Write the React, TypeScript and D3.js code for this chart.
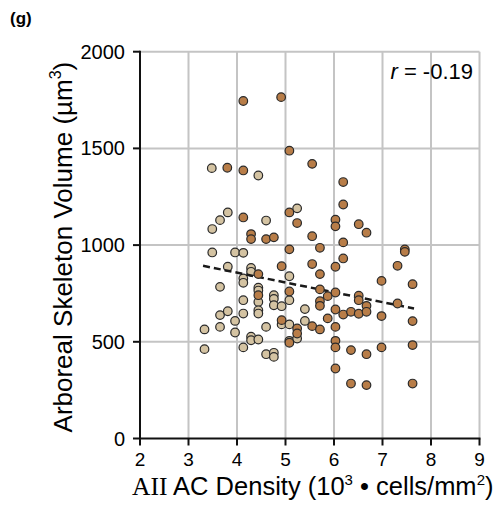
import React from 'react';
import * as d3 from 'd3';

// values: x = AII AC density, y = arboreal skeleton volume
const lightX = [3.33, 3.33, 3.48, 3.49, 3.49, 3.65, 3.65, 3.65, 3.65, 3.81, 3.81, 3.81, 3.96, 3.96, 3.96, 4.13, 4.13, 4.13, 4.13, 4.13, 4.13, 4.29, 4.29, 4.29, 4.29, 4.44, 4.44, 4.44, 4.44, 4.44, 4.44, 4.44, 4.6, 4.6, 4.6, 4.76, 4.76, 4.76, 4.76, 4.76, 4.92, 4.92, 5.08, 5.08, 5.08, 5.08, 5.24, 5.24, 5.4, 5.4];
const lightY = [564, 462, 1398, 1083, 962, 1129, 784, 638, 577, 1169, 888, 658, 962, 608, 548, 960, 828, 805, 715, 646, 471, 882, 862, 526, 508, 1360, 780, 765, 706, 663, 646, 512, 1127, 577, 436, 741, 722, 689, 443, 422, 684, 590, 839, 715, 590, 505, 1190, 517, 669, 608];

const darkX = [3.8, 4.13, 4.13, 4.13, 4.29, 4.29, 4.44, 4.44, 4.6, 4.76, 4.91, 4.92, 4.92, 5.08, 5.08, 5.08, 5.08, 5.08, 5.24, 5.24, 5.24, 5.55, 5.55, 5.55, 5.55, 5.71, 5.71, 5.71, 5.71, 5.71, 5.71, 5.87, 5.87, 6.03, 6.03, 6.03, 6.03, 6.03, 6.03, 6.03, 6.03, 6.03, 6.19, 6.19, 6.19, 6.19, 6.19, 6.35, 6.35, 6.35, 6.51, 6.51, 6.51, 6.51, 6.67, 6.67, 6.67, 6.67, 6.67, 6.98, 6.98, 6.98, 7.31, 7.31, 7.46, 7.46, 7.62, 7.62, 7.62, 7.62];
const darkY = [1400, 1745, 1386, 1143, 1057, 1031, 850, 741, 1031, 1040, 1765, 891, 612, 1488, 1169, 978, 760, 495, 1114, 569, 543, 1420, 1046, 902, 581, 986, 850, 771, 710, 686, 564, 736, 621, 1131, 1097, 888, 755, 667, 577, 505, 471, 362, 1326, 1210, 1014, 931, 641, 655, 457, 284, 1108, 738, 715, 645, 1064, 686, 655, 436, 276, 815, 633, 471, 893, 698, 978, 965, 798, 607, 483, 284];

const trendX = [3.3, 7.65];
const trendY = [893, 672];

const xTicks = [2, 3, 4, 5, 6, 7, 8, 9];
const yTicks = [0, 500, 1000, 1500, 2000];

export default function App() {
    const width = 501;
    const height = 510;
    const font = '"Liberation Sans", Arial, sans-serif';

    const xScale = d3.scaleLinear().domain([2, 9]).range([140, 479.5]);
    const yScale = d3.scaleLinear().domain([0, 2000]).range([438.5, 51.7]);

    const light = lightX.map((x, i) => ({ x, y: lightY[i] }));
    const dark = darkX.map((x, i) => ({ x, y: darkY[i] }));
    const trend = trendX.map((x, i) => ({ x, y: trendY[i] }));

    const line = d3.line<{ x: number; y: number }>()
        .x(d => xScale(d.x))
        .y(d => yScale(d.y));

    const x0 = xScale(2), x1 = xScale(9);
    const y0 = yScale(0), y1 = yScale(2000);
    const grid = '#c4c4c4';

    return (
        <svg width={width} height={height} style={{ position: 'absolute', left: 0, top: 0 }}
            fontFamily={font}>
            <rect width={width} height={height} fill="white" />
            <text x={10} y={24} fontSize={17} fontWeight="bold">(g)</text>

            {/* grid */}
            {xTicks.slice(1).map(t => (
                <line key={'gx' + t} x1={xScale(t)} x2={xScale(t)} y1={y0} y2={y1} stroke={grid} strokeWidth={2} />
            ))}
            {yTicks.slice(1).map(t => (
                <line key={'gy' + t} x1={x0} x2={x1} y1={yScale(t)} y2={yScale(t)} stroke={grid} strokeWidth={2} />
            ))}

            {/* axes */}
            <line x1={x0} x2={x0} y1={y1 - 1} y2={y0 + 1} stroke="#111" strokeWidth={2} />
            <line x1={x0 - 1} x2={x1 + 1} y1={y0} y2={y0} stroke="#111" strokeWidth={2} />
            {yTicks.map(t => (
                <g key={'ty' + t}>
                    <line x1={x0 - 7} x2={x0} y1={yScale(t)} y2={yScale(t)} stroke="#111" strokeWidth={2} />
                    <text x={x0 - 15} y={yScale(t) + 7} fontSize={20} textAnchor="end">{t}</text>
                </g>
            ))}
            {xTicks.map(t => (
                <g key={'tx' + t}>
                    <line x1={xScale(t)} x2={xScale(t)} y1={y0} y2={y0 + 7} stroke="#111" strokeWidth={2} />
                    <text x={xScale(t)} y={466} fontSize={19} textAnchor="middle">{t}</text>
                </g>
            ))}

            {/* points */}
            {light.map((d, i) => (
                <circle key={'l' + i} cx={xScale(d.x)} cy={yScale(d.y)} r={4.3}
                    fill="#d4c3a2" stroke="#2a2a2a" strokeWidth={1.2} />
            ))}
            <path d={line(trend) || ''} fill="none" stroke="#1a1a1a" strokeWidth={2.5} strokeDasharray="7,4" />
            {dark.map((d, i) => (
                <circle key={'d' + i} cx={xScale(d.x)} cy={yScale(d.y)} r={4.3}
                    fill="#b87d48" stroke="#2a2a2a" strokeWidth={1.2} />
            ))}

            <text x={473} y={79} fontSize={22} textAnchor="end">
                <tspan fontStyle="italic">r</tspan> = -0.19
            </text>

            {/* axis titles */}
            <text transform={`translate(72,${(y0 + y1) / 2 + 2}) rotate(-90)`} fontSize={26} textAnchor="middle">
                Arboreal Skeleton Volume (µm<tspan fontSize={16} dy={-11}>3</tspan><tspan dy={11}>)</tspan>
            </text>
            <text x={(x0 + x1) / 2 + 3} y={495} fontSize={25.5} textAnchor="middle">
                <tspan fontFamily='"Liberation Serif", "Times New Roman", serif'>AII</tspan> AC Density (10<tspan fontSize={15} dy={-10}>3</tspan><tspan dy={10}> • cells/mm</tspan><tspan fontSize={15} dy={-10}>2</tspan><tspan dy={10}>)</tspan>
            </text>
        </svg>
    );
}
